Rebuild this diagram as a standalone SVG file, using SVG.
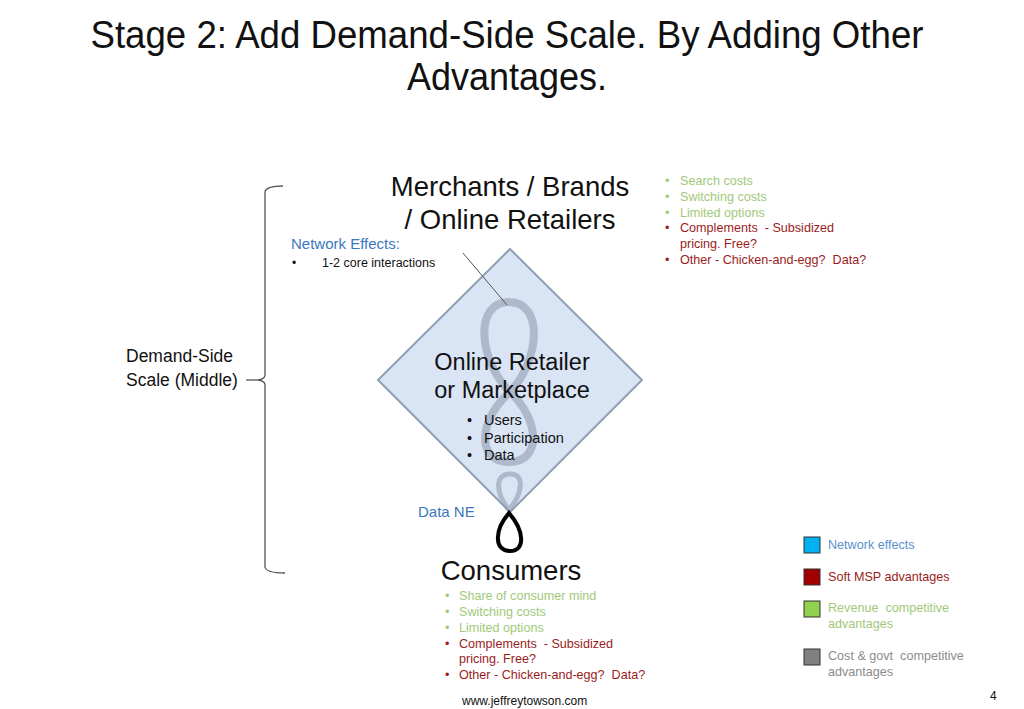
<svg xmlns="http://www.w3.org/2000/svg" width="1024" height="709" viewBox="0 0 1024 709">
<style>
text{font-family:"Liberation Sans",Arial,sans-serif;white-space:pre;}
.title{font-size:38px;fill:#111;}
.big{font-size:27.5px;fill:#111;}
.mid{font-size:23.5px;fill:#111;}
.sm{font-size:14.5px;fill:#111;}
.lst{font-size:12.6px;}
.g{fill:#9fc97a;}
.r{fill:#9a1c1c;}
.b{fill:#3a78c0;}
.gy{fill:#8c8c8c;}
.brace{fill:none;stroke:#555;stroke-width:1.3;}
</style>
<rect width="1024" height="709" fill="#fff"/>
<g id="title">
<text class="title" x="507" y="48" text-anchor="middle" textLength="833" lengthAdjust="spacingAndGlyphs">Stage 2: Add Demand-Side Scale. By Adding Other</text>
<text class="title" x="507" y="90" text-anchor="middle" textLength="200" lengthAdjust="spacingAndGlyphs">Advantages.</text>
</g>
<g id="brace">
<path class="brace" d="M283,186 Q266,186 265,192 L265,375 Q265,379 258,380 Q265,381 265,385 L265,567 Q266,573 285,573"/>
<line class="brace" x1="246" y1="380" x2="258" y2="380"/>
<text x="126" y="362" style="font-size:17.5px;fill:#111">Demand-Side</text>
<text x="126" y="386" style="font-size:17.5px;fill:#111">Scale (Middle)</text>
</g>
<g id="merchants">
<text class="big" x="510" y="196" text-anchor="middle">Merchants / Brands</text>
<text class="big" x="510" y="229" text-anchor="middle">/ Online Retailers</text>
</g>
<g id="merchant-list" class="lst">
<text x="665" y="185" class="g">•</text><text x="680" y="185" class="g">Search costs</text>
<text x="665" y="201" class="g">•</text><text x="680" y="201" class="g">Switching costs</text>
<text x="665" y="217" class="g">•</text><text x="680" y="217" class="g">Limited options</text>
<text x="665" y="232" class="r">•</text><text x="680" y="232" class="r">Complements  - Subsidized</text>
<text x="680" y="248" class="r">pricing. Free?</text>
<text x="665" y="264" class="r">•</text><text x="680" y="264" class="r">Other - Chicken-and-egg?  Data?</text>
</g>
<g id="network-effects">
<text x="291" y="249" class="b" style="font-size:15px">Network Effects:</text>
<text x="292" y="267" style="font-size:12px;fill:#111">•</text>
<text x="322" y="267" style="font-size:12.5px;fill:#111">1-2 core interactions</text>
</g>
<g id="platform">
<polygon points="510,249 642,380 510,512 378,380" fill="#d9e4f5" stroke="#8f9fb2" stroke-width="2"/>
<path d="M510,392 C478,360 474,302 509,302 C544,302 540,360 510,392 C478,420 476,462 509,462 C542,462 540,420 510,392 Z" fill="none" stroke="#8a96a8" stroke-opacity="0.55" stroke-width="8"/>
<path d="M509,510 C496,494 494,474 510,474 C526,474 522,494 509,510 Z" fill="none" stroke="#8a96a8" stroke-opacity="0.55" stroke-width="5"/>
<text class="mid" x="512" y="370" text-anchor="middle">Online Retailer</text>
<text class="mid" x="512" y="398" text-anchor="middle">or Marketplace</text>
<text class="sm" x="467" y="425">•</text><text class="sm" x="484" y="425">Users</text>
<text class="sm" x="467" y="443">•</text><text class="sm" x="484" y="443">Participation</text>
<text class="sm" x="467" y="460">•</text><text class="sm" x="484" y="460">Data</text>
</g>
<g id="connectors">
<line x1="463" y1="253" x2="507" y2="305" stroke="#555" stroke-width="1"/>
<path d="M509,513 C494,530 494,551 510,551 C526,551 524,530 509,513 Z" fill="none" stroke="#000" stroke-width="4"/>
</g>
<g id="data-ne">
<text x="418" y="517" class="b" style="font-size:15px">Data NE</text>
</g>
<g id="consumers">
<text class="big" x="511" y="580" text-anchor="middle">Consumers</text>
</g>
<g id="consumer-list" class="lst">
<text x="445" y="600" class="g">•</text><text x="459" y="600" class="g">Share of consumer mind</text>
<text x="445" y="616" class="g">•</text><text x="459" y="616" class="g">Switching costs</text>
<text x="445" y="632" class="g">•</text><text x="459" y="632" class="g">Limited options</text>
<text x="445" y="648" class="r">•</text><text x="459" y="648" class="r">Complements  - Subsidized</text>
<text x="459" y="663" class="r">pricing. Free?</text>
<text x="445" y="679" class="r">•</text><text x="459" y="679" class="r">Other - Chicken-and-egg?  Data?</text>
</g>
<g id="legend" class="lst">
<rect x="804" y="537" width="16" height="16" fill="#00b0f0" stroke="#333" stroke-width="1"/>
<text x="828" y="549" style="fill:#5b8fcc">Network effects</text>
<rect x="804" y="569" width="16" height="16" fill="#a00000" stroke="#333" stroke-width="1"/>
<text x="828" y="581" class="r">Soft MSP advantages</text>
<rect x="804" y="601" width="16" height="16" fill="#92d050" stroke="#333" stroke-width="1"/>
<text x="828" y="612" class="g">Revenue  competitive</text>
<text x="828" y="628" class="g">advantages</text>
<rect x="804" y="649" width="16" height="16" fill="#808080" stroke="#333" stroke-width="1"/>
<text x="828" y="660" class="gy">Cost &amp; govt  competitive</text>
<text x="828" y="676" class="gy">advantages</text>
</g>
<g id="footer">
<text x="462" y="705" style="font-size:12px;fill:#111">www.jeffreytowson.com</text>
<text x="990" y="700" style="font-size:12px;fill:#111">4</text>
</g>
</svg>
